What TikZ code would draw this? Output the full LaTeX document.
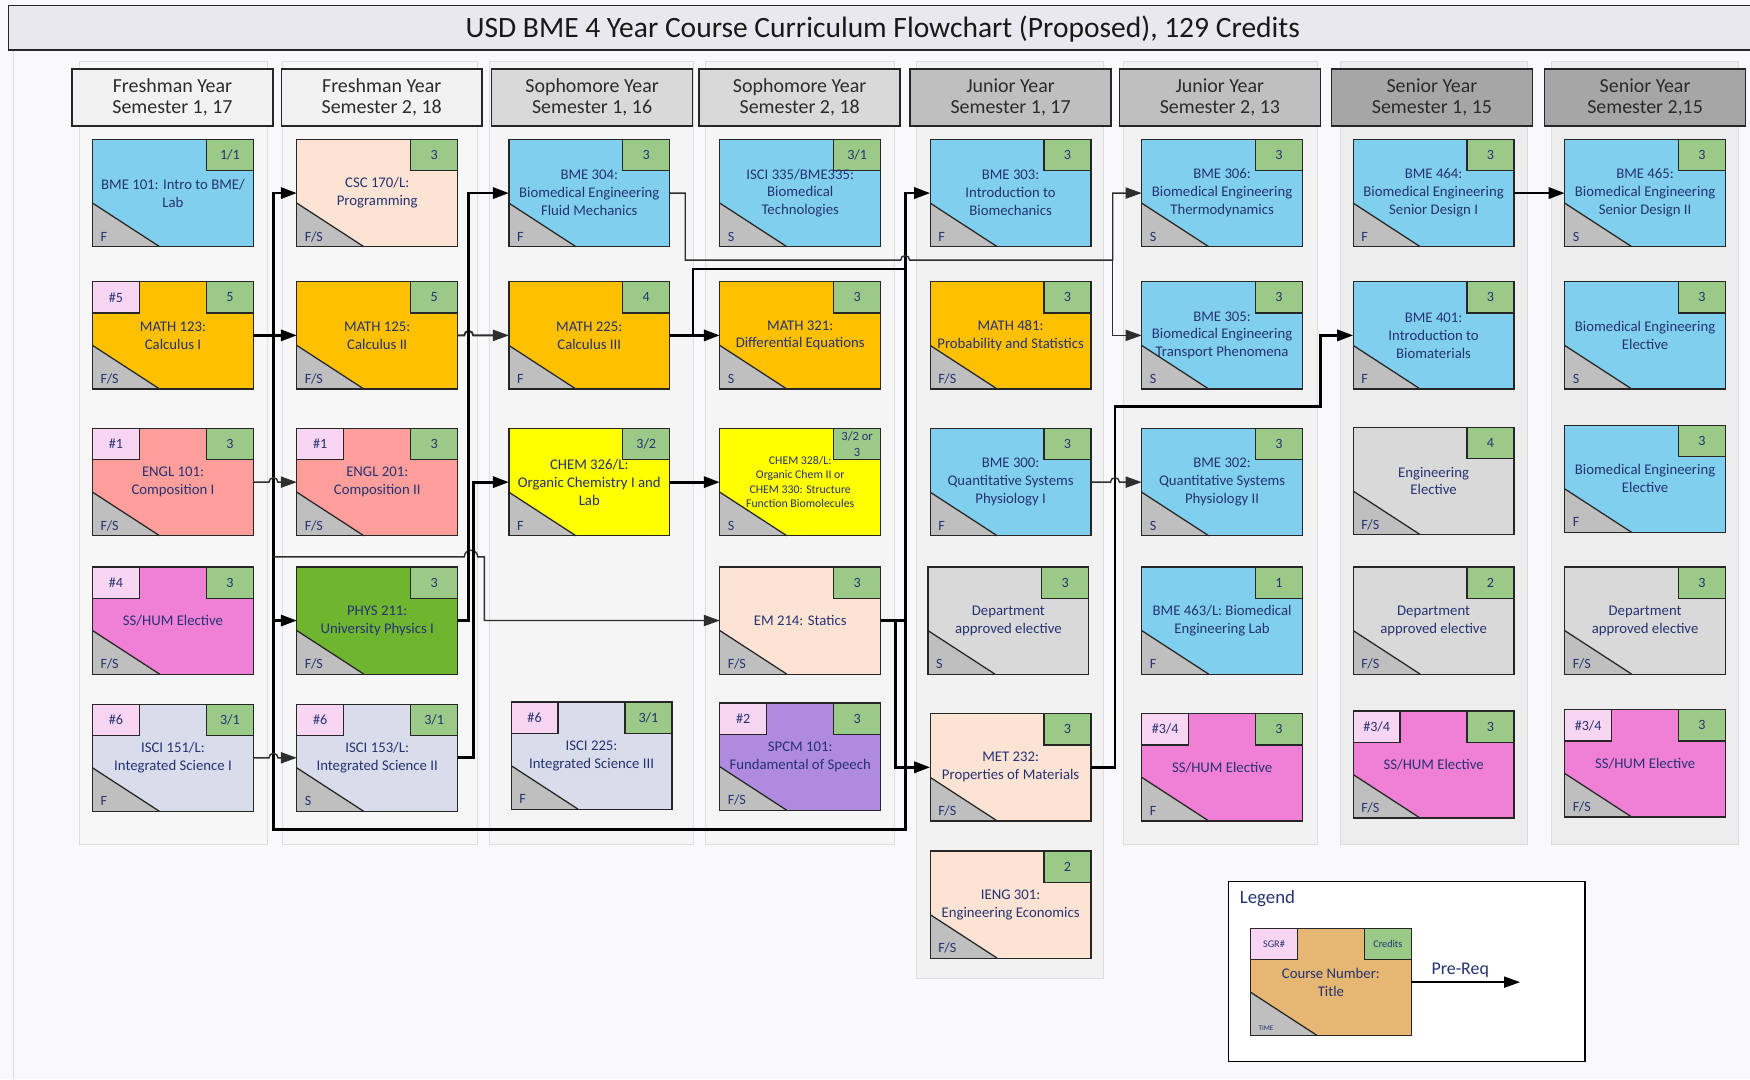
\documentclass[tikz,border=0pt]{standalone}
\usepackage{fontspec}
\setmainfont{Carlito}
\usepackage{tikz}
\usetikzlibrary{arrows.meta,calc}
\definecolor{usdNavy}{HTML}{263372}
\definecolor{boxEdge}{HTML}{262626}
\definecolor{headText}{HTML}{2B2B2B}
\definecolor{credGreen}{HTML}{9BC987}
\definecolor{sgrPink}{HTML}{F8D5F2}
\definecolor{termGray}{HTML}{BFBFBF}
\definecolor{bmeBlue}{HTML}{80CFEE}
\definecolor{mathOrange}{HTML}{FFC000}
\definecolor{englRed}{HTML}{FF9E9A}
\definecolor{humPink}{HTML}{F07FD6}
\definecolor{isciGray}{HTML}{D9DCEA}
\definecolor{peach}{HTML}{FCE3D3}
\definecolor{physGreen}{HTML}{6FB530}
\definecolor{chemYellow}{HTML}{FFFF00}
\definecolor{speechPurple}{HTML}{AF8ADE}
\definecolor{electGray}{HTML}{D9D9D9}
\definecolor{legendTan}{HTML}{E6B673}
\definecolor{pageBg}{HTML}{F9F9FB}
\definecolor{titleFill}{HTML}{E9E8EF}
\definecolor{headFresh}{HTML}{F2F2F2}
\definecolor{headSoph}{HTML}{D9D9D9}
\definecolor{headJun}{HTML}{BFBFBF}
\definecolor{headSen}{HTML}{A6A6A6}
\definecolor{panelEdge}{HTML}{DDDDDD}
\definecolor{lineGray}{HTML}{2E2E2E}

% course card: [text opts]{name}{x,y}{fill}{credits}{SGR}{term}{title}
\newcommand{\addcourse}[8][]{%
  \node[coursebox,fill=#4] (#2) at (#3) {};
  \fill[termGray] (#2.south west) -- ++(0,-39) -- ++(60,39) -- cycle;
  \draw[boxline] ($(#2.south west)+(0,-39)$) -- ++(60,39);
  \node[credtab,anchor=north east] (#2-cr) at (#2.north east) {#5};
  \if\relax\detokenize{#6}\relax\else
    \node[sgrtab,anchor=north west] (#2-sg) at (#2.north west) {#6};
  \fi
  \node[termtext,anchor=base west] (#2-tm) at ($(#2.south west)+(7,-5)$) {#7};
  \node[coursetext,#1] (#2-tx) at (#2.center) {#8};
  \draw[boxline] (#2.south west) rectangle (#2.north east);
}

\begin{document}
\begin{tikzpicture}[
  x=0.025cm, y=-0.025cm,
  coursebox/.style={rectangle,minimum width=3.6cm,minimum height=2.4cm,inner sep=0pt,outer sep=0pt},
  coursetext/.style={align=center,text=usdNavy,inner sep=0pt,font=\fontsize{9.4}{11.4}\selectfont},
  credtab/.style={rectangle,draw=boxEdge,line width=0.8pt,fill=credGreen,minimum width=1.05cm,minimum height=0.7cm,inner sep=0pt,outer sep=0pt,align=center,text=usdNavy,font=\fontsize{9}{10}\selectfont},
  sgrtab/.style={credtab,fill=sgrPink},
  termtext/.style={text=usdNavy,inner sep=0pt,font=\fontsize{9}{10}\selectfont},
  boxline/.style={draw=boxEdge,line width=0.8pt},
  yearhead/.style={rectangle,draw=boxEdge,line width=0.9pt,minimum width=4.5cm,minimum height=1.275cm,inner sep=0pt,align=center,text=headText,font=\fontsize{12.7}{13.6}\selectfont},
  panel/.style={fill=#1,draw=panelEdge,line width=0.6pt},
  prereq/.style={-{Triangle[length=0.36cm,width=0.25cm]},line width=1.8pt,draw=black},
  thinreq/.style={-{Triangle[length=0.36cm,width=0.25cm]},line width=0.9pt,draw=lineGray},
  bus/.style={line width=1.8pt,draw=black}
]
\clip (0,0) rectangle (1568,967);
\fill[pageBg] (0,0) rectangle (1568,967);
\draw[panelEdge,line width=0.8pt] (12,45) -- (12,967);

% title
\node[rectangle,draw=boxEdge,line width=1pt,fill=titleFill,minimum width=39.8cm,minimum height=1cm] (titlebar) at (804,25) {};
\node[text=black!90,font=\fontsize{18.8}{20}\selectfont] (titletext) at (791,26) {USD BME 4 Year Course Curriculum Flowchart (Proposed), 129 Credits};

% semester columns
\draw[panel=black!3] (71,55) rectangle (240,757);
\draw[panel=black!3] (253,55) rectangle (428,757);
\draw[panel=black!4] (439,55) rectangle (621,757);
\draw[panel=black!4] (632,55) rectangle (801,757);
\draw[panel=black!5] (821,55) rectangle (989,877);
\draw[panel=black!5] (1007,55) rectangle (1180,757);
\draw[panel=black!7] (1201,55) rectangle (1369,757);
\draw[panel=black!7] (1390,55) rectangle (1558,757);

\node[yearhead,fill=headFresh] (hd1) at (154.5,87.5) {Freshman Year\\Semester 1, 17};
\node[yearhead,fill=headFresh] (hd2) at (342,87.5) {Freshman Year\\Semester 2, 18};
\node[yearhead,fill=headSoph] (hd3) at (530.5,87.5) {Sophomore Year\\Semester 1, 16};
\node[yearhead,fill=headSoph] (hd4) at (716.5,87.5) {Sophomore Year\\Semester 2, 18};
\node[yearhead,fill=headJun] (hd5) at (905.5,87.5) {Junior Year\\Semester 1, 17};
\node[yearhead,fill=headJun] (hd6) at (1093,87.5) {Junior Year\\Semester 2, 13};
\node[yearhead,fill=headSen] (hd7) at (1283,87.5) {Senior Year\\Semester 1, 15};
\node[yearhead,fill=headSen] (hd8) at (1474,87.5) {Senior Year\\Semester 2,15};

% freshman 1
\addcourse{bme101}{155,173}{bmeBlue}{1/1}{}{F}{BME 101: Intro to BME/\\Lab}
\addcourse{math123}{155,300.5}{mathOrange}{5}{\#5}{F/S}{MATH 123:\\Calculus I}
\addcourse{engl101}{155,432}{englRed}{3}{\#1}{F/S}{ENGL 101:\\Composition I}
\addcourse{sshum1}{155,556}{humPink}{3}{\#4}{F/S}{SS/HUM Elective}
\addcourse{isci151}{155,679}{isciGray}{3/1}{\#6}{F}{ISCI 151/L:\\Integrated Science I}
% freshman 2
\addcourse{csc170}{338,173}{peach}{3}{}{F/S}{CSC 170/L:\\Programming}
\addcourse{math125}{338,300.5}{mathOrange}{5}{}{F/S}{MATH 125:\\Calculus II}
\addcourse{engl201}{338,432}{englRed}{3}{\#1}{F/S}{ENGL 201:\\Composition II}
\addcourse{phys211}{338,556}{physGreen}{3}{}{F/S}{PHYS 211:\\University Physics I}
\addcourse{isci153}{338,679}{isciGray}{3/1}{\#6}{S}{ISCI 153/L:\\Integrated Science II}
% sophomore 1
\addcourse{bme304}{528,173}{bmeBlue}{3}{}{F}{BME 304:\\Biomedical Engineering\\Fluid Mechanics}
\addcourse{math225}{528,300.5}{mathOrange}{4}{}{F}{MATH 225:\\Calculus III}
\addcourse{chem326}{528,432}{chemYellow}{3/2}{}{F}{CHEM 326/L:\\Organic Chemistry I and\\Lab}
\addcourse{isci225}{530,677}{isciGray}{3/1}{\#6}{F}{ISCI 225:\\Integrated Science III}
% sophomore 2
\addcourse{isci335}{717,173}{bmeBlue}{3/1}{}{S}{ISCI 335/BME335:\\Biomedical\\Technologies}
\addcourse{math321}{717,300.5}{mathOrange}{3}{}{S}{MATH 321:\\Differential Equations}
\addcourse[font=\fontsize{7.5}{9.2}\selectfont]{chem328}{717,432}{chemYellow}{\fontsize{8}{9}\selectfont 3/2 or\\\fontsize{8}{9}\selectfont 3}{}{S}{CHEM 328/L:\\Organic Chem II or\\CHEM 330: Structure\\Function Biomolecules}
\addcourse{em214}{717,556}{peach}{3}{}{F/S}{EM 214: Statics}
\addcourse{spcm101}{717,678}{speechPurple}{3}{\#2}{F/S}{SPCM 101:\\Fundamental of Speech}
% junior 1
\addcourse{bme303}{905.5,173}{bmeBlue}{3}{}{F}{BME 303:\\Introduction to\\Biomechanics}
\addcourse{math481}{905.5,300.5}{mathOrange}{3}{}{F/S}{MATH 481:\\Probability and Statistics}
\addcourse{bme300}{905.5,432}{bmeBlue}{3}{}{F}{BME 300:\\Quantitative Systems\\Physiology I}
\addcourse{deptel1}{903.5,556}{electGray}{3}{}{S}{Department\\approved elective}
\addcourse{met232}{905.5,687.5}{peach}{3}{}{F/S}{MET 232:\\Properties of Materials}
\addcourse{ieng301}{905.5,810.5}{peach}{2}{}{F/S}{IENG 301:\\Engineering Economics}
% junior 2
\addcourse{bme306}{1095,173}{bmeBlue}{3}{}{S}{BME 306:\\Biomedical Engineering\\Thermodynamics}
\addcourse{bme305}{1095,300.5}{bmeBlue}{3}{}{S}{BME 305:\\Biomedical Engineering\\Transport Phenomena}
\addcourse{bme302}{1095,432}{bmeBlue}{3}{}{S}{BME 302:\\Quantitative Systems\\Physiology II}
\addcourse{bme463}{1095,556}{bmeBlue}{1}{}{F}{BME 463/L: Biomedical\\Engineering Lab}
\addcourse{sshum2}{1095,687.5}{humPink}{3}{\#3/4}{F}{SS/HUM Elective}
% senior 1
\addcourse{bme464}{1284.5,173}{bmeBlue}{3}{}{F}{BME 464:\\Biomedical Engineering\\Senior Design I}
\addcourse{bme401}{1284.5,300.5}{bmeBlue}{3}{}{F}{BME 401:\\Introduction to\\Biomaterials}
\addcourse{engel}{1284.5,431}{electGray}{4}{}{F/S}{Engineering\\Elective}
\addcourse{deptel2}{1284.5,556}{electGray}{2}{}{F/S}{Department\\approved elective}
\addcourse{sshum3}{1284.5,685}{humPink}{3}{\#3/4}{F/S}{SS/HUM Elective}
% senior 2
\addcourse{bme465}{1474,173}{bmeBlue}{3}{}{S}{BME 465:\\Biomedical Engineering\\Senior Design II}
\addcourse{bmeel1}{1474,300.5}{bmeBlue}{3}{}{S}{Biomedical Engineering\\Elective}
\addcourse{bmeel2}{1474,429}{bmeBlue}{3}{}{F}{Biomedical Engineering\\Elective}
\addcourse{deptel3}{1474,556}{electGray}{3}{}{F/S}{Department\\approved elective}
\addcourse{sshum4}{1474,684}{humPink}{3}{\#3/4}{F/S}{SS/HUM Elective}

% routing lines
\coordinate (trA) at (245,0);
\coordinate (trB) at (420,0);
\coordinate (trB2) at (424,0);
\coordinate (jog) at (434,0);
\coordinate (trD) at (614,0);
\coordinate (trM) at (621,0);
\coordinate (trC2) at (802,0);
\coordinate (trC) at (811,0);
\coordinate (trE) at (997,0);
\coordinate (trF) at (999,0);
\coordinate (trG) at (1183,0);
\coordinate (lvlD) at (0,233);
\coordinate (lvlM) at (0,241);
\coordinate (lvlF) at (0,364);
\coordinate (lvlS) at (0,499);
\coordinate (lvlB) at (0,743);
\coordinate (hopB) at (422,499);

\draw[prereq] (math123) -- (math125);
\draw[prereq] (math123.east) -| (trA |- csc170.west) -- (csc170.west);
\draw[prereq] (math123.east) -| (trA |- phys211.west) -- (phys211.west);
\draw[bus] (math123.east) -| (trA |- lvlB) -- (trC |- lvlB) -- (trC |- em214.east);
\draw[thinreq] (engl101.east) -- ([xshift=-0.1cm]trA |- engl101.east) arc[start angle=180,end angle=0,radius=0.1cm] -- (engl201.west);
\draw[thinreq] (isci151.east) -- ([xshift=-0.1cm]trA |- isci153.west) arc[start angle=180,end angle=0,radius=0.1cm] -- (isci153.west);
\draw[thinreq] (trA |- lvlS) -- ([xshift=-0.15cm]hopB) arc[start angle=180,end angle=0,radius=0.15cm] -- (jog |- lvlS) |- (em214.west);
\draw[thinreq,line width=1.2pt] (math125.east) -- ([xshift=-0.1cm]trB |- math125.east) arc[start angle=180,end angle=0,radius=0.1cm] -- (math225.west);
\draw[prereq] (phys211.east) -| (trB |- bme304.west) -- (bme304.west);
\draw[prereq] (isci153.east) -| (trB2 |- chem326.west) -- (chem326.west);
\draw[prereq] (chem326) -- (chem328);
\draw[prereq] (math225) -- (math321);
\draw[bus] (math225.east) -| (trM |- lvlM) -- (trC |- lvlM);
\draw[prereq] (em214.east) -| (trC |- bme303.west) -- (bme303.west);
\draw[prereq] (em214.east) -| (trC2 |- met232.west) -- (met232.west);
\draw[thinreq] (bme304.east) -| (trD |- lvlD) -- ([xshift=-0.1cm]trC |- lvlD) arc[start angle=180,end angle=0,radius=0.1cm] -- (trE |- lvlD) |- (bme306.west);
\draw[thinreq] (trE |- lvlD) |- (bme305.west);
\draw[prereq] (met232.east) -| (trF |- lvlF) -| (trG |- bme401.west) -- (bme401.west);
\draw[thinreq] (bme300.east) -- ([xshift=-0.1cm]trF |- bme300.east) arc[start angle=180,end angle=0,radius=0.1cm] -- (bme302.west);
\draw[prereq] (bme464) -- (bme465);

% legend
\node[rectangle,draw=black,line width=0.9pt,fill=white,minimum width=7.975cm,minimum height=4.025cm] (legend) at (1260.5,870.5) {};
\node[anchor=west,text=usdNavy,font=\fontsize{12}{14}\selectfont] (legendlabel) at (1106,805) {Legend};
\addcourse{sample}{1192.5,880}{legendTan}{\fontsize{6.5}{7}\selectfont Credits}{\fontsize{6.5}{7}\selectfont SGR\#}{\fontsize{4.5}{5}\selectfont TIME}{Course Number:\\Title}
\coordinate (prqEnd) at (1362,880);
\draw[thinreq,draw=black] (sample.east) -- (prqEnd) node[pos=0.45,above=-1pt,text=usdNavy,font=\fontsize{11.4}{13}\selectfont] (prqlabel) {Pre-Req};
\end{tikzpicture}
\end{document}
